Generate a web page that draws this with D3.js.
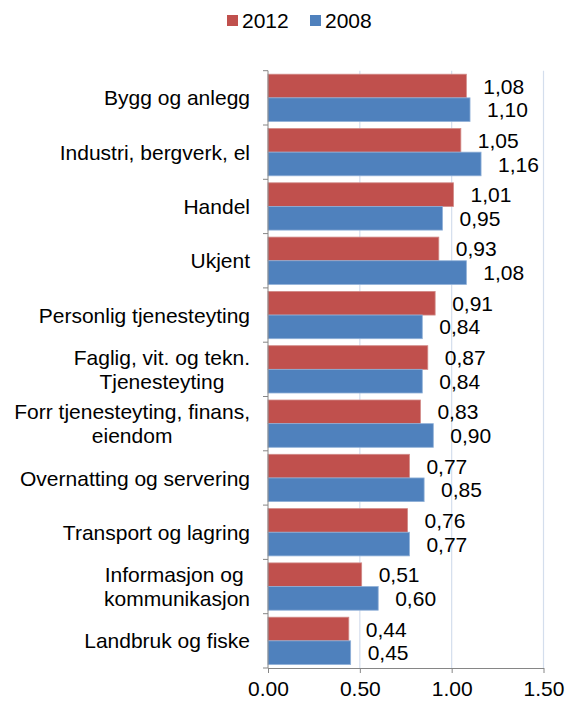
<!DOCTYPE html>
<html>
<head>
  <meta charset="utf-8">
  <title>Bransjer 2012 / 2008</title>
  <script src="https://d3js.org/d3.v7.min.js"></script>
  <style>
    body {
      margin: 0;
      padding: 0;
      background: white;
    }
    svg {
      font-family: "Liberation Sans", Arial, sans-serif;
    }
  </style>
</head>
<body>
<div id="chart"></div>
<script>
  // data
  var categories = [
    "Bygg og anlegg",
    "Industri, bergverk, el",
    "Handel",
    "Ukjent",
    "Personlig tjenesteyting",
    "Faglig, vit. og tekn.|Tjenesteyting",
    "Forr tjenesteyting, finans,|eiendom",
    "Overnatting og servering",
    "Transport og lagring",
    "Informasjon og |kommunikasjon",
    "Landbruk og fiske"
  ];
  var series = ["2012", "2008"];
  var values2012 = [1.08, 1.05, 1.01, 0.93, 0.91, 0.87, 0.83, 0.77, 0.76, 0.51, 0.44];
  var values2008 = [1.10, 1.16, 0.95, 1.08, 0.84, 0.84, 0.90, 0.85, 0.77, 0.60, 0.45];
  var ticks = [0, 0.5, 1.0, 1.5];

  var width = 571, height = 701;
  var plotLeft = 268, plotRight = 543.5, plotTop = 70.7, plotBottom = 668;
  var fs = 21;

  var colors = { "2012": "#C0504D", "2008": "#4F81BD" };
  var strokes = { "2012": "#D18a88", "2008": "#8fb0d8" };

  var svg = d3.select("#chart")
    .append("svg")
      .attr("width", width)
      .attr("height", height);

  var x = d3.scaleLinear().domain([0, 1.5]).range([plotLeft, plotRight]);
  var y = d3.scaleBand().domain(categories).range([plotTop, plotBottom]).padding(0);
  var y1 = d3.scaleBand().domain(series).range([3.5, y.bandwidth() - 3.5]).padding(0);

  // gridlines
  svg.append("g")
    .selectAll("line")
    .data(ticks.slice(1))
    .enter()
    .append("line")
      .attr("x1", function(d) { return x(d); })
      .attr("x2", function(d) { return x(d); })
      .attr("y1", plotTop)
      .attr("y2", plotBottom)
      .attr("stroke", "#d4deed")
      .attr("stroke-width", 1.2);

  var rows = [];
  categories.forEach(function(c, i) {
    rows.push({ cat: c, s: "2012", v: values2012[i] });
    rows.push({ cat: c, s: "2008", v: values2008[i] });
  });

  // bars
  svg.append("g")
    .selectAll("rect")
    .data(rows)
    .enter()
    .append("rect")
      .attr("x", x(0))
      .attr("y", function(d) { return y(d.cat) + y1(d.s); })
      .attr("width", function(d) { return x(d.v) - x(0); })
      .attr("height", y1.bandwidth())
      .attr("fill", function(d) { return colors[d.s]; })
      .attr("stroke", function(d) { return strokes[d.s]; })
      .attr("stroke-width", 0.8);

  // data labels
  svg.append("g")
    .selectAll("text")
    .data(rows)
    .enter()
    .append("text")
      .attr("x", function(d) { return x(d.v) + 17; })
      .attr("y", function(d) { return y(d.cat) + y1(d.s) + y1.bandwidth() / 2; })
      .attr("dy", "0.36em")
      .attr("font-size", fs)
      .attr("fill", "#000")
      .text(function(d) { return d.v.toFixed(2).replace(".", ","); });

  // y axis
  var yAxis = svg.append("g")
    .attr("transform", "translate(" + plotLeft + ",0)");
  yAxis.append("line")
    .attr("x1", 0).attr("x2", 0)
    .attr("y1", plotTop).attr("y2", plotBottom)
    .attr("stroke", "#868686");
  yAxis.selectAll(".tk")
    .data(categories.concat(["end"]))
    .enter()
    .append("line")
      .attr("class", "tk")
      .attr("x1", -5).attr("x2", 0)
      .attr("y1", function(d, i) { return plotTop + i * y.step(); })
      .attr("y2", function(d, i) { return plotTop + i * y.step(); })
      .attr("stroke", "#868686");

  // category labels
  var catLabels = svg.append("g")
    .selectAll("text")
    .data(categories)
    .enter()
    .append("text")
      .attr("font-size", fs)
      .attr("fill", "#000")
      .attr("text-anchor", "middle");

  catLabels.each(function(d) {
    var lines = d.split("|");
    var t = d3.select(this);
    var yc = y(d) + y.bandwidth() / 2;
    lines.forEach(function(l, i) {
      t.append("tspan")
        .attr("y", yc + (i - (lines.length - 1) / 2) * 23.5)
        .attr("dy", "0.36em")
        .text(l);
    });
    // right-align the block at x=250, center the lines inside it
    var w = d3.max(t.selectAll("tspan").nodes(), function(n) { return n.getComputedTextLength(); });
    t.selectAll("tspan").attr("x", 250 - w / 2);
  });

  // x axis
  var xAxis = svg.append("g")
    .attr("transform", "translate(0," + plotBottom + ")")
    .call(d3.axisBottom(x).tickValues(ticks).tickSize(5).tickSizeOuter(0)
      .tickFormat(function(d) { return d.toFixed(2); }));
  xAxis.select(".domain").attr("stroke", "#868686");
  xAxis.selectAll(".tick line").attr("stroke", "#868686");
  xAxis.selectAll(".tick text")
    .attr("font-size", fs)
    .attr("font-family", "Liberation Sans, Arial, sans-serif")
    .attr("fill", "#000")
    .attr("y", 13);

  // legend
  var legend = svg.append("g");
  var legX = [227, 310];
  series.forEach(function(s, i) {
    legend.append("rect")
      .attr("x", legX[i]).attr("y", 15)
      .attr("width", 11).attr("height", 11)
      .attr("fill", colors[s]);
    legend.append("text")
      .attr("x", legX[i] + 15).attr("y", 28)
      .attr("font-size", fs)
      .attr("fill", "#000")
      .text(s);
  });
</script>
</body>
</html>
